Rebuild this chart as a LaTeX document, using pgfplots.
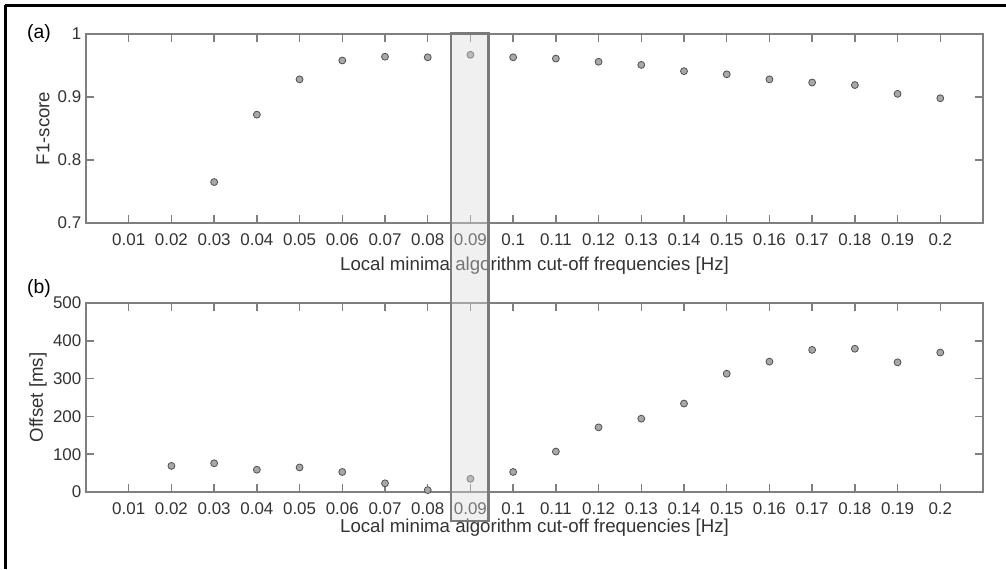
\documentclass[border=0pt]{standalone}
\usepackage{fontspec}
\setmainfont{Liberation Sans}
\usepackage{pgfplots}
\pgfplotsset{compat=1.18}

\definecolor{axgray}{HTML}{7F7F7F}
\definecolor{txt}{HTML}{333333}
\definecolor{markfill}{HTML}{A8A8A8}
\definecolor{markedge}{HTML}{505050}
\definecolor{hlfill}{HTML}{D9D9D9}
\definecolor{hledge}{HTML}{7A7A7A}

% 1 px of the reference = 0.75pt
\pgfplotsset{
  panel/.style={
    scale only axis, width=672.75pt, height=141.75pt,
    anchor=south west,
    xmin=0, xmax=0.21,
    xtick={0.01,0.02,0.03,0.04,0.05,0.06,0.07,0.08,0.09,0.1,0.11,0.12,0.13,0.14,0.15,0.16,0.17,0.18,0.19,0.2},
    xticklabels={0.01,0.02,0.03,0.04,0.05,0.06,0.07,0.08,0.09,0.1,0.11,0.12,0.13,0.14,0.15,0.16,0.17,0.18,0.19,0.2},
    tick align=inside, major tick length=6pt,
    axis line style={draw=axgray, line width=1.1pt},
    every tick/.style={draw=axgray, line width=1.1pt},
    tick label style={font=\fontsize{12.7}{14}\selectfont, text=txt},
    /pgf/number format/assume math mode=true,
    xticklabel style={yshift=-4.5pt},
    label style={font=\fontsize{14}{16}\selectfont, text=txt},
    xlabel={Local minima algorithm cut-off frequencies [Hz]},
    ylabel style={at={(axis description cs:0,0.5)}, anchor=center},
    xlabel style={at={(axis description cs:0.5,0)}, anchor=center},
  },
  dots/.style={only marks, mark=*, mark size=2.6pt,
    mark options={fill=markfill, draw=markedge, line width=0.6pt}},
}

\begin{document}
\begin{tikzpicture}
\path[use as bounding box] (0,0) rectangle (754.5pt,-426.75pt);
\draw[black, line width=2.2pt] (4pt,-4pt) -- (754.5pt,-4pt);
\draw[black, line width=2.2pt] (4pt,-4pt) -- (4pt,-426.75pt);

% (a) F1-score
\begin{axis}[panel, at={(64.5pt,-167.25pt)},
    ymin=0.7, ymax=1, ytick={0.7,0.8,0.9,1}, yticklabels={0.7,0.8,0.9,1},
    ylabel={F1-score}, ylabel style={yshift=32.25pt},
    xlabel style={yshift=-32.25pt}]
\addplot[dots] coordinates {
  (0.03,0.765) (0.04,0.872) (0.05,0.928) (0.06,0.958) (0.07,0.964)
  (0.08,0.963) (0.09,0.967) (0.10,0.963) (0.11,0.961) (0.12,0.956)
  (0.13,0.951) (0.14,0.941) (0.15,0.936) (0.16,0.928) (0.17,0.923)
  (0.18,0.919) (0.19,0.905) (0.20,0.898)
};
\end{axis}

% (b) Offset
\begin{axis}[panel, at={(64.5pt,-369pt)},
    ymin=0, ymax=500, ytick={0,100,200,300,400,500},
    ylabel={Offset [ms]}, ylabel style={yshift=36pt},
    xlabel style={yshift=-27pt}]
\addplot[dots] coordinates {
  (0.02,69) (0.03,76) (0.04,59) (0.05,65) (0.06,53) (0.07,23)
  (0.08,5) (0.09,35) (0.10,53) (0.11,107) (0.12,171) (0.13,194)
  (0.14,234) (0.15,313) (0.16,345) (0.17,376) (0.18,379) (0.19,343)
  (0.20,369)
};
\end{axis}

% highlighted cut-off 0.09
\fill[hlfill, fill opacity=0.4] (338.25pt,-25.1pt) rectangle (366.4pt,-390.75pt);
\draw[hledge, line width=1.9pt] (338.25pt,-25.1pt) rectangle (366.4pt,-390.75pt);

\node[font=\fontsize{14.5}{16}\selectfont, text=black] at (29.25pt,-24.75pt) {(a)};
\node[font=\fontsize{14.5}{16}\selectfont, text=black] at (29.25pt,-216pt) {(b)};
\end{tikzpicture}
\end{document}
